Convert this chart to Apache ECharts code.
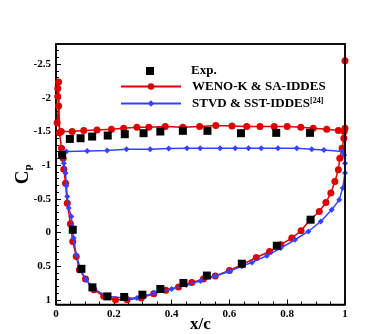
<!DOCTYPE html>
<html>
<head>
<meta charset="UTF-8">
<title>Cp</title>
<script src="https://cdn.jsdelivr.net/npm/echarts@6/dist/echarts.min.js"></script>
<style>
  html, body { margin: 0; padding: 0; background: #fff; }
  #main { width: 388px; height: 334px; }
</style>
</head>
<body>
<div id="main"></div>
<script>
// tick labels
var xTicks = [0, 0.2, 0.4, 0.6, 0.8, 1];
var cpTicks = [-2.5, -2, -1.5, -1, -0.5, 0, 0.5, 1];

// experiment, upper and lower surface
var expUpperX  = [0.021, 0.048, 0.085, 0.125, 0.179, 0.238, 0.303, 0.361, 0.439, 0.524, 0.640, 0.762, 0.879];
var expUpperCp = [-1.15, -1.39, -1.40, -1.425, -1.44, -1.46, -1.475, -1.50, -1.51, -1.51, -1.475, -1.48, -1.48];
var expLowerX  = [0.058, 0.088, 0.126, 0.178, 0.236, 0.299, 0.361, 0.441, 0.522, 0.643, 0.764, 0.881];
var expLowerCp = [-0.04, 0.54, 0.815, 0.95, 0.958, 0.924, 0.84, 0.75, 0.64, 0.464, 0.197, -0.19];

// WENO-K & SA-IDDES (null = break before the trailing-edge spike)
var wenoX = [0.997, 0.977, 0.937, 0.890, 0.847, 0.800, 0.755, 0.706, 0.660, 0.609, 0.553, 0.497, 0.439, 0.378,
  0.321, 0.280, 0.234, 0.192, 0.142, 0.096, 0.056, 0.018, 0.004, 0.009, 0.006, 0.006, 0.009, 0.012, 0.019,
  0.025, 0.027, 0.033, 0.039, 0.050, 0.058, 0.070, 0.081, 0.102, 0.131, 0.165, 0.206, 0.246, 0.295, 0.338,
  0.380, 0.424, 0.470, 0.510, 0.551, 0.600, 0.643, 0.693, 0.739, 0.778, 0.816, 0.848, 0.879, 0.911, 0.934,
  0.951, 0.965, 0.977, 0.982, 0.990, 0.996, 1.0, null, 1.0];
var wenoCp = [-1.50, -1.514, -1.534, -1.549, -1.564, -1.573, -1.573, -1.573, -1.573, -1.580, -1.588, -1.573, -1.564, -1.573,
  -1.564, -1.564, -1.549, -1.534, -1.524, -1.514, -1.499, -1.50, -1.63, -1.88, -2.02, -2.14, -2.236, -1.48, -1.253,
  -1.104, -0.941, -0.733, -0.436, -0.129, 0.133, 0.356, 0.553, 0.691, 0.85, 0.949, 0.998, 0.998, 0.973, 0.909,
  0.86, 0.81, 0.745, 0.69, 0.645, 0.565, 0.48, 0.371, 0.282, 0.182, 0.083, -0.026, -0.189, -0.312, -0.445,
  -0.585, -0.757, -0.931, -1.104, -1.25, -1.40, -1.55, null, -2.55];

// STVD & SST-IDDES
var stvdX = [0.992, 0.927, 0.885, 0.833, 0.768, 0.710, 0.666, 0.620, 0.568, 0.499, 0.453, 0.390, 0.326, 0.244,
  0.177, 0.108, 0.036, 0.025, 0.027, 0.033, 0.036, 0.039, 0.044, 0.053, 0.056, 0.061, 0.070, 0.085, 0.104,
  0.131, 0.177, 0.234, 0.280, 0.341, 0.400, 0.450, 0.500, 0.550, 0.600, 0.643, 0.678, 0.730, 0.778, 0.827,
  0.873, 0.916, 0.954, 0.980, 0.992, 1.0, 1.0, 0.997, 0.992];
var stvdCp = [-1.202, -1.227, -1.238, -1.253, -1.253, -1.253, -1.253, -1.253, -1.253, -1.253, -1.253, -1.247, -1.238, -1.238,
  -1.217, -1.212, -1.202, -1.19, -1.03, -0.882, -0.693, -0.534, -0.362, -0.238, -0.089, 0.083, 0.331, 0.553, 0.702,
  0.839, 0.949, 0.973, 0.973, 0.899, 0.84, 0.78, 0.72, 0.65, 0.575, 0.50, 0.445, 0.345, 0.231, 0.108,
  -0.015, -0.163, -0.337, -0.485, -0.659, -0.882, -1.03, -1.15, -1.202];

function pairs(xs, ys) {
  return xs.map(function (x, i) { return x === null ? '-' : [x, ys[i]]; });
}

var serif = "'Liberation Serif', 'Times New Roman', serif";
var red = '#dd0000';
var blue = '#3344ff';

var minorCp = [];
for (var k = -28; k <= 10; k++) minorCp.push(k / 10);

var legendText = {
  fontFamily: serif, fontWeight: 'bold', fontSize: 13, color: '#000',
  rich: {
    t: { fontFamily: serif, fontWeight: 'bold', fontSize: 13, color: '#000' },
    s: { fontFamily: serif, fontWeight: 'bold', fontSize: 8, color: '#000', verticalAlign: 'top' }
  }
};
function legendFmt(name) {
  if (name === 'STVD & SST-IDDES') return '{t|' + name + '}{s|[24]}';
  return '{t|' + name + '}';
}

var myChart = echarts.init(document.getElementById('main'));
var option = {
  animation: false,
  backgroundColor: '#fff',
  grid: {
    left: 56, right: 43, top: 44, bottom: 29.5, containLabel: false, outerBoundsMode: 'none',
    show: true, borderColor: '#000', borderWidth: 1.5
  },
  legend: [{
    left: 146, top: 64.5, orient: 'vertical', padding: 0,
    itemWidth: 8, itemHeight: 8, icon: 'rect',
    data: ['Exp.'],
    formatter: legendFmt,
    textStyle: Object.assign({ padding: [0, 0, 0, 32] }, legendText)
  }, {
    left: 120, top: 80, orient: 'vertical', padding: 0,
    itemWidth: 60, itemHeight: 8, itemGap: 4,
    data: ['WENO-K & SA-IDDES', 'STVD & SST-IDDES'],
    formatter: legendFmt,
    textStyle: Object.assign({ padding: [0, 0, 0, 6] }, legendText)
  }],
  xAxis: [{
    type: 'value', min: 0, max: 1, interval: 0.2,
    name: 'x/c', nameLocation: 'middle', nameGap: 12, nameMoveOverlap: false,
    nameTextStyle: { fontFamily: serif, fontWeight: 'bold', fontSize: 17, color: '#000' },
    axisLine: { show: true, onZero: false, lineStyle: { color: '#000', width: 1.5 } },
    axisTick: { show: true, inside: true, length: 5, lineStyle: { color: '#000' } },
    minorTick: { show: true, splitNumber: 4, length: 3, lineStyle: { color: '#000' } },
    splitLine: { show: false },
    axisLabel: {
      margin: 4, fontFamily: serif, fontWeight: 'bold', fontSize: 11, color: '#000',
      formatter: function (v) { return xTicks.indexOf(Math.round(v * 10) / 10) >= 0 ? String(Math.round(v * 10) / 10) : ''; }
    }
  }, {
    type: 'value', min: 0, max: 1, position: 'top', z: 5,
    axisLine: { show: true, onZero: false, lineStyle: { color: '#000', width: 1.5 } },
    axisTick: { show: false }, axisLabel: { show: false }, splitLine: { show: false }
  }],
  yAxis: [{
    type: 'value', inverse: true, min: -2.8, max: 1.07, position: 'left',
    name: '{c|C}{p|p}', nameLocation: 'middle', nameGap: 22, nameRotate: 90, nameMoveOverlap: false,
    nameTextStyle: {
      rich: {
        c: { fontFamily: serif, fontWeight: 'bold', fontSize: 19, color: '#000', lineHeight: 22 },
        p: { fontFamily: serif, fontWeight: 'bold', fontSize: 11, color: '#000', verticalAlign: 'bottom' }
      }
    },
    axisLine: { show: true, onZero: false, lineStyle: { color: '#000', width: 1.5 } },
    axisTick: { show: true, inside: true, length: 5, customValues: cpTicks, lineStyle: { color: '#000' } },
    splitLine: { show: false },
    axisLabel: {
      customValues: cpTicks, margin: 5,
      fontFamily: serif, fontWeight: 'bold', fontSize: 11, color: '#000'
    }
  }, {
    type: 'value', inverse: true, min: -2.8, max: 1.07, position: 'left',
    axisLine: { show: false, onZero: false },
    axisTick: { show: true, inside: true, length: 3, customValues: minorCp, lineStyle: { color: '#000' } },
    axisLabel: { show: false },
    splitLine: { show: false }
  }, {
    type: 'value', inverse: true, min: -2.8, max: 1.07, position: 'right', z: 5,
    axisLine: { show: true, onZero: false, lineStyle: { color: '#000', width: 1.5 } },
    axisTick: { show: false },
    axisLabel: { show: false },
    splitLine: { show: false }
  }],
  series: [{
    name: 'Exp.', type: 'scatter', symbol: 'square', symbolSize: 8,
    itemStyle: { color: '#000', opacity: 1 },
    data: pairs(expUpperX, expUpperCp).concat(pairs(expLowerX, expLowerCp)),
    z: 4
  }, {
    name: 'WENO-K & SA-IDDES', type: 'line', symbol: 'circle', symbolSize: 7,
    showAllSymbol: true, connectNulls: false,
    lineStyle: { color: red, width: 1.5 },
    itemStyle: { color: red },
    data: pairs(wenoX, wenoCp),
    z: 2
  }, {
    name: 'STVD & SST-IDDES', type: 'line', symbol: 'diamond', symbolSize: 6,
    showAllSymbol: true,
    lineStyle: { color: blue, width: 1.5 },
    itemStyle: { color: blue },
    data: pairs(stvdX, stvdCp),
    z: 3
  }]
};
myChart.setOption(option);
</script>
</body>
</html>
